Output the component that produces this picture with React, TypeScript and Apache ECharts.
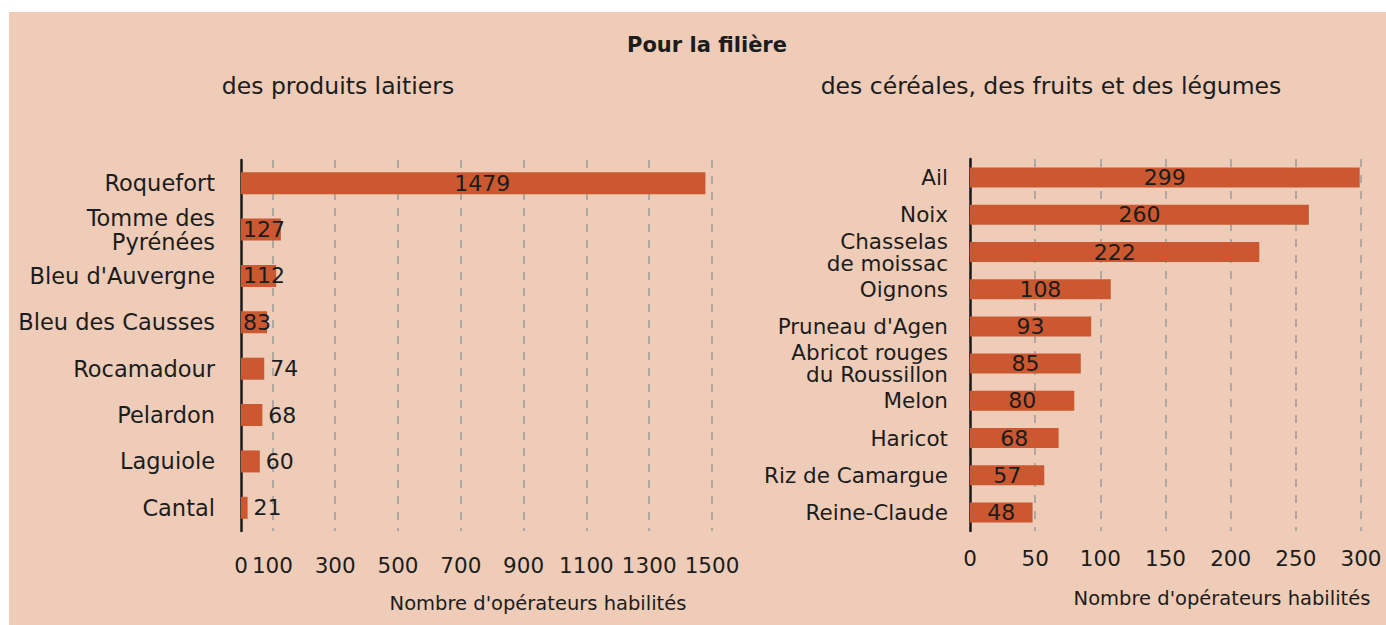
import React, { useEffect, useRef } from "react";
import * as echarts from "echarts";

const dairyCategories = [
  "Roquefort",
  "Tomme des\nPyrénées",
  "Bleu d'Auvergne",
  "Bleu des Causses",
  "Rocamadour",
  "Pelardon",
  "Laguiole",
  "Cantal",
];
const dairyValues = [1479, 127, 112, 83, 74, 68, 60, 21];
const dairyLabelPos = ["inside", "insideLeft", "insideLeft", "insideLeft", "right", "right", "right", "right"];

const cropCategories = [
  "Ail",
  "Noix",
  "Chasselas\nde moissac",
  "Oignons",
  "Pruneau d'Agen",
  "Abricot rouges\ndu Roussillon",
  "Melon",
  "Haricot",
  "Riz de Camargue",
  "Reine-Claude",
];
const cropValues = [299, 260, 222, 108, 93, 85, 80, 68, 57, 48];

const dairyTickLabels = [0, 100, 300, 500, 700, 900, 1100, 1300, 1500];

const TITLE = "Pour la filière";
const SUB_LEFT = "des produits laitiers";
const SUB_RIGHT = "des céréales, des fruits et des légumes";
const AXIS_NAME = "Nombre d'opérateurs habilités";

const FONT = "'DejaVu Sans', sans-serif";
const TEXT = "#1c1c1c";
const BAR = "#CB5830";
const BG = "#EECCB8";
const GRIDC = "#9a9a9a";

export default function App() {
  const ref = useRef<HTMLDivElement>(null);
  useEffect(() => {
    const chart = echarts.init(ref.current!, null, { renderer: "svg" });
    const option: any = {
      animation: false,
      backgroundColor: "#ffffff",
      textStyle: { fontFamily: FONT, color: TEXT },
      graphic: [
        { type: "rect", z: -10, shape: { x: 9, y: 12, width: 1377, height: 613 }, style: { fill: BG } },
        { type: "text", x: 707, y: 45, style: { text: TITLE, font: `bold 21px ${FONT}`, fill: TEXT, textAlign: "center", textVerticalAlign: "middle" } },
        { type: "text", x: 338, y: 86, style: { text: SUB_LEFT, font: `23.5px ${FONT}`, fill: TEXT, textAlign: "center", textVerticalAlign: "middle" } },
        { type: "text", x: 1051, y: 86, style: { text: SUB_RIGHT, font: `23.5px ${FONT}`, fill: TEXT, textAlign: "center", textVerticalAlign: "middle" } },
        { type: "text", x: 538, y: 603, style: { text: AXIS_NAME, font: `19.5px ${FONT}`, fill: TEXT, textAlign: "center", textVerticalAlign: "middle" } },
        { type: "text", x: 1222, y: 598, style: { text: AXIS_NAME, font: `19.5px ${FONT}`, fill: TEXT, textAlign: "center", textVerticalAlign: "middle" } },
      ],
      grid: [
        { left: 241, top: 160, width: 471, height: 371, containLabel: false },
        { left: 970, top: 159, width: 391, height: 372, containLabel: false },
      ],
      xAxis: [
        {
          type: "value",
          gridIndex: 0,
          min: 0,
          max: 1500,
          interval: 100,
          axisLine: { show: false },
          axisTick: { show: false },
          axisLabel: {
            margin: 23,
            fontSize: 21.5,
            color: TEXT,
            fontFamily: FONT,
            formatter: (v: number) => (dairyTickLabels.includes(v) ? String(v) : ""),
          },
          splitLine: {
            show: true,
            lineStyle: { color: ["rgba(0,0,0,0)", GRIDC], type: [8, 8], width: 1.5 },
          },
        },
        {
          type: "value",
          gridIndex: 1,
          min: 0,
          max: 300,
          interval: 50,
          axisLine: { show: false },
          axisTick: { show: false },
          axisLabel: { margin: 16, fontSize: 21.5, color: TEXT, fontFamily: FONT },
          splitLine: { show: true, lineStyle: { color: GRIDC, type: [8, 8], width: 1.5 } },
        },
      ],
      yAxis: [
        {
          type: "category",
          gridIndex: 0,
          data: dairyCategories,
          inverse: true,
          axisLine: { show: true, lineStyle: { color: "#1a1a1a", width: 2.5 } },
          axisTick: { show: false },
          axisLabel: { margin: 26, fontSize: 22.5, lineHeight: 24, color: TEXT, fontFamily: FONT, align: "right" },
        },
        {
          type: "category",
          gridIndex: 1,
          data: cropCategories,
          inverse: true,
          axisLine: { show: true, lineStyle: { color: "#1a1a1a", width: 2.5 } },
          axisTick: { show: false },
          axisLabel: { margin: 22, fontSize: 21.5, lineHeight: 22, color: TEXT, fontFamily: FONT, align: "right" },
        },
      ],
      series: [
        {
          type: "bar",
          xAxisIndex: 0,
          yAxisIndex: 0,
          barWidth: 22,
          itemStyle: { color: BAR },
          data: dairyValues.map((v, i) => ({
            value: v,
            label: {
              position: dairyLabelPos[i],
              distance: dairyLabelPos[i] === "right" ? 6 : 2,
              offset: dairyLabelPos[i] === "inside" ? [9, 0] : [0, 0],
            },
          })),
          label: { show: true, fontSize: 22, color: TEXT, fontFamily: FONT },
        },
        {
          type: "bar",
          xAxisIndex: 1,
          yAxisIndex: 1,
          barWidth: 20,
          itemStyle: { color: BAR },
          data: cropValues,
          label: { show: true, position: "inside", fontSize: 22, color: TEXT, fontFamily: FONT },
        },
      ],
    };
    chart.setOption(option);
    return () => chart.dispose();
  }, []);
  return (
    <div
      ref={ref}
      style={{ position: "fixed", left: 0, top: 0, width: 1386, height: 625 }}
    />
  );
}
